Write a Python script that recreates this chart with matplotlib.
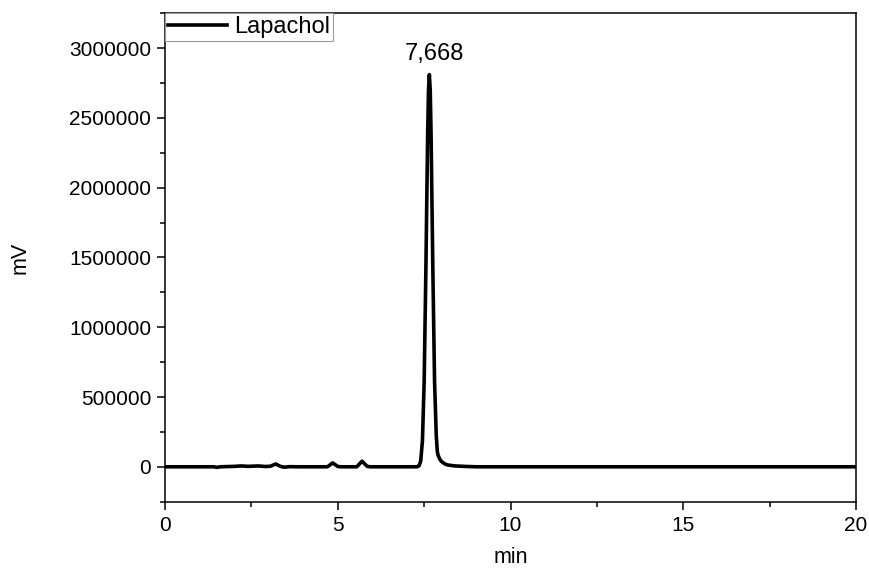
import matplotlib.pyplot as plt
from matplotlib.ticker import MultipleLocator, FormatStrFormatter

plt.rcParams['font.family'] = ['Liberation Sans', 'DejaVu Sans']

#.........chromatogram points (time in min, signal in mV)........
t = [0.0, 1.40, 1.50, 1.60, 2.00, 2.20, 2.40, 2.70, 2.90, 3.05, 3.20, 3.35, 3.45,
     3.60, 3.80, 4.00, 4.70, 4.85, 5.00, 5.10, 5.55, 5.70, 5.85, 5.95, 7.25,
     7.30, 7.35, 7.40, 7.45, 7.50, 7.55, 7.60, 7.625, 7.65, 7.675, 7.70, 7.75,
     7.80, 7.85, 7.88, 7.90, 7.95, 8.00, 8.10, 8.20, 8.40, 8.70, 9.00, 20.0]
mv = [0, 0, -4000, 0, 3000, 6000, 3000, 6000, 2000, 4000, 20000, 2000, -3000,
      1000, 0, 0, 0, 28000, 2000, 0, 0, 40000, 3000, 0, 0,
      700, 6400, 41000, 189000, 614000, 1430000, 2375000, 2700000, 2810000,
      2700000, 2375000, 1430000,
      614000, 220000, 110000, 85000, 55000, 38000, 20000, 12000, 6000, 2500, 0, 0]

peak_time = 7.668
peak_label = '7,668'

fig = plt.figure(figsize=(8.69, 5.74), dpi=100)
ax = fig.add_axes([0.19, 0.126, 0.795, 0.851])

ax.plot(t, mv, color='black', lw=2.6, label='Lapachol', solid_joinstyle='round')
ax.text(peak_time + 0.12, 2.955e6, peak_label, fontsize=17, ha='center', va='center')

ax.set_xlim(0, 20)
ax.set_ylim(-250000, 3250000)
ax.xaxis.set_major_locator(MultipleLocator(5))
ax.xaxis.set_minor_locator(MultipleLocator(2.5))
ax.yaxis.set_major_locator(MultipleLocator(500000))
ax.yaxis.set_minor_locator(MultipleLocator(250000))
ax.yaxis.set_major_formatter(FormatStrFormatter('%d'))
ax.tick_params(which='both', direction='out', top=False, right=False, width=1.1)
ax.tick_params(which='major', length=6, labelsize=15, pad=4)
ax.tick_params(which='minor', length=3.5)
for s in ax.spines.values():
    s.set_linewidth(1.1)

ax.set_xlabel('min', fontsize=15.5, labelpad=9)
ax.set_ylabel('mV', fontsize=15.5, labelpad=28)

leg = ax.legend(loc='upper left', borderaxespad=0, fontsize=17, handlelength=2.5,
                handletextpad=0.3, borderpad=0.12, fancybox=False, framealpha=1)
leg.get_frame().set_edgecolor('#999999')
leg.get_frame().set_linewidth(0.8)

plt.savefig('out.png', dpi=100)
